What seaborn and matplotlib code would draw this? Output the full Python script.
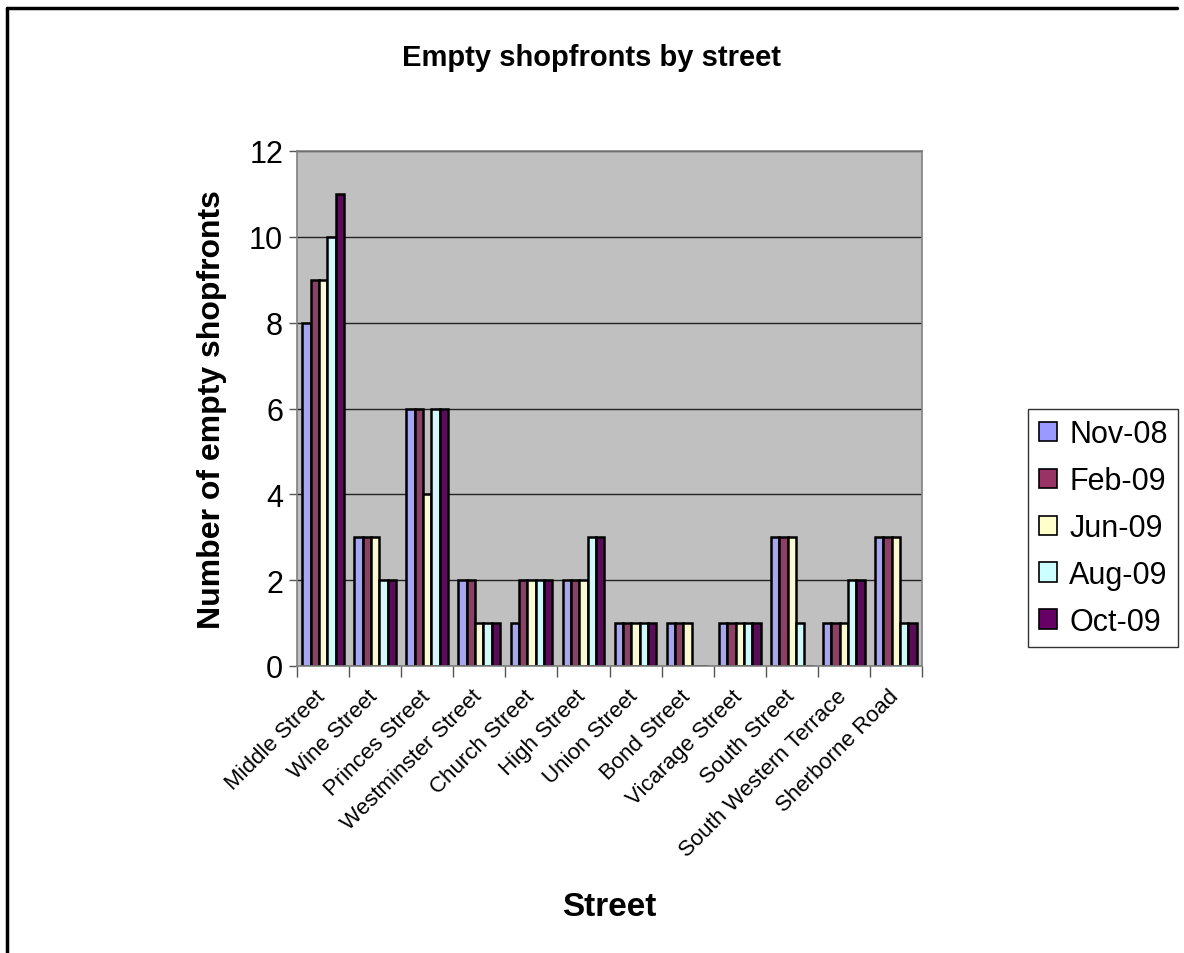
import pandas as pd
import matplotlib.pyplot as plt
import matplotlib.patches as mpatches
import matplotlib.transforms as mtransforms
from matplotlib.lines import Line2D
import seaborn as sns

streets = ["Middle Street", "Wine Street", "Princes Street", "Westminster Street",
           "Church Street", "High Street", "Union Street", "Bond Street",
           "Vicarage Street", "South Street", "South Western Terrace", "Sherborne Road"]
months = ["Nov-08", "Feb-09", "Jun-09", "Aug-09", "Oct-09"]

nov_08 = [8, 3, 6, 2, 1, 2, 1, 1, 1, 3, 1, 3]
feb_09 = [9, 3, 6, 2, 2, 2, 1, 1, 1, 3, 1, 3]
jun_09 = [9, 3, 4, 1, 2, 2, 1, 1, 1, 3, 1, 3]
aug_09 = [10, 2, 6, 1, 2, 3, 1, 0, 1, 1, 2, 1]
oct_09 = [11, 2, 6, 1, 2, 3, 1, 0, 1, 0, 2, 1]

colors = ["#9999FF", "#993366", "#FFFFCC", "#CCFFFF", "#660066"]

series = [nov_08, feb_09, jun_09, aug_09, oct_09]
rows = []
for m, vals in zip(months, series):
    for s, v in zip(streets, vals):
        rows.append({"Street": s, "Month": m, "Count": v})
df = pd.DataFrame(rows)

sns.set_theme(style="white")
plt.rcParams["font.family"] = ["Liberation Sans", "DejaVu Sans"]
plt.rcParams["text.color"] = "black"
plt.rcParams["axes.labelcolor"] = "black"
plt.rcParams["xtick.color"] = "black"
plt.rcParams["ytick.color"] = "black"

fig = plt.figure(figsize=(11.84, 9.54), dpi=100)
ax = fig.add_axes([297 / 1184, 1 - 667 / 954, 625 / 1184, 515 / 954])
ax.set_facecolor("#C0C0C0")

sns.barplot(data=df, x="Street", y="Count", hue="Month", order=streets,
            hue_order=months, palette=colors, width=0.8, edgecolor="black",
            linewidth=1.8, ax=ax, legend=False)

ax.set_ylim(0, 12)
ax.set_xlim(-0.5, len(streets) - 0.5)
ax.set_yticks(range(0, 13, 2))
ax.yaxis.grid(True, color="#222222", linewidth=1.0)
ax.set_axisbelow(True)
ax.tick_params(axis="y", labelsize=22, length=6, width=1, color="#555555",
               direction="out", left=True, pad=4)

ax.set_xticks(range(len(streets)))
ax.set_xticklabels(streets, rotation=45, ha="right", rotation_mode="anchor", fontsize=16)
ax.tick_params(axis="x", length=0, pad=14)
shift = mtransforms.ScaledTranslation(-8 / 100, 0, fig.dpi_scale_trans)
for lbl in ax.get_xticklabels():
    lbl.set_transform(lbl.get_transform() + shift)
ax.set_xticks([i - 0.5 for i in range(len(streets) + 1)], minor=True)
ax.tick_params(axis="x", which="minor", length=8, width=1, color="#555555",
               direction="out", bottom=True)

for side in ["left", "bottom", "right", "top"]:
    ax.spines[side].set_color("#808080")
    ax.spines[side].set_linewidth(1.2)

ax.set_xlabel("Street", fontsize=24, fontweight="bold", labelpad=22)
ax.set_ylabel("Number of empty shopfronts", fontsize=23, fontweight="bold", labelpad=16)

fig.text(0.5, 1 - 58 / 954, "Empty shopfronts by street", ha="center", va="center",
         fontsize=21, fontweight="bold")

handles = [mpatches.Patch(facecolor=c, edgecolor="black", linewidth=1.2, label=m)
           for c, m in zip(colors, months)]
leg = fig.legend(handles=handles, loc="center left",
                 bbox_to_anchor=(1028 / 1184, 1 - 529 / 954), fontsize=22,
                 frameon=True, fancybox=False, edgecolor="black",
                 handlelength=0.6, handleheight=0.6, handletextpad=0.4,
                 labelspacing=0.55, borderpad=0.35, borderaxespad=0)
leg.get_frame().set_linewidth(1.0)

# outer chart border
fig.add_artist(Line2D([7 / 1184, 7 / 1184], [0, 1 - 9 / 954], color="black", linewidth=2.5,
                      transform=fig.transFigure))
fig.add_artist(Line2D([7 / 1184, 1177 / 1184], [1 - 9 / 954, 1 - 9 / 954], color="black",
                      linewidth=2.5, transform=fig.transFigure))

plt.savefig("out.png", dpi=100)
plt.close()
